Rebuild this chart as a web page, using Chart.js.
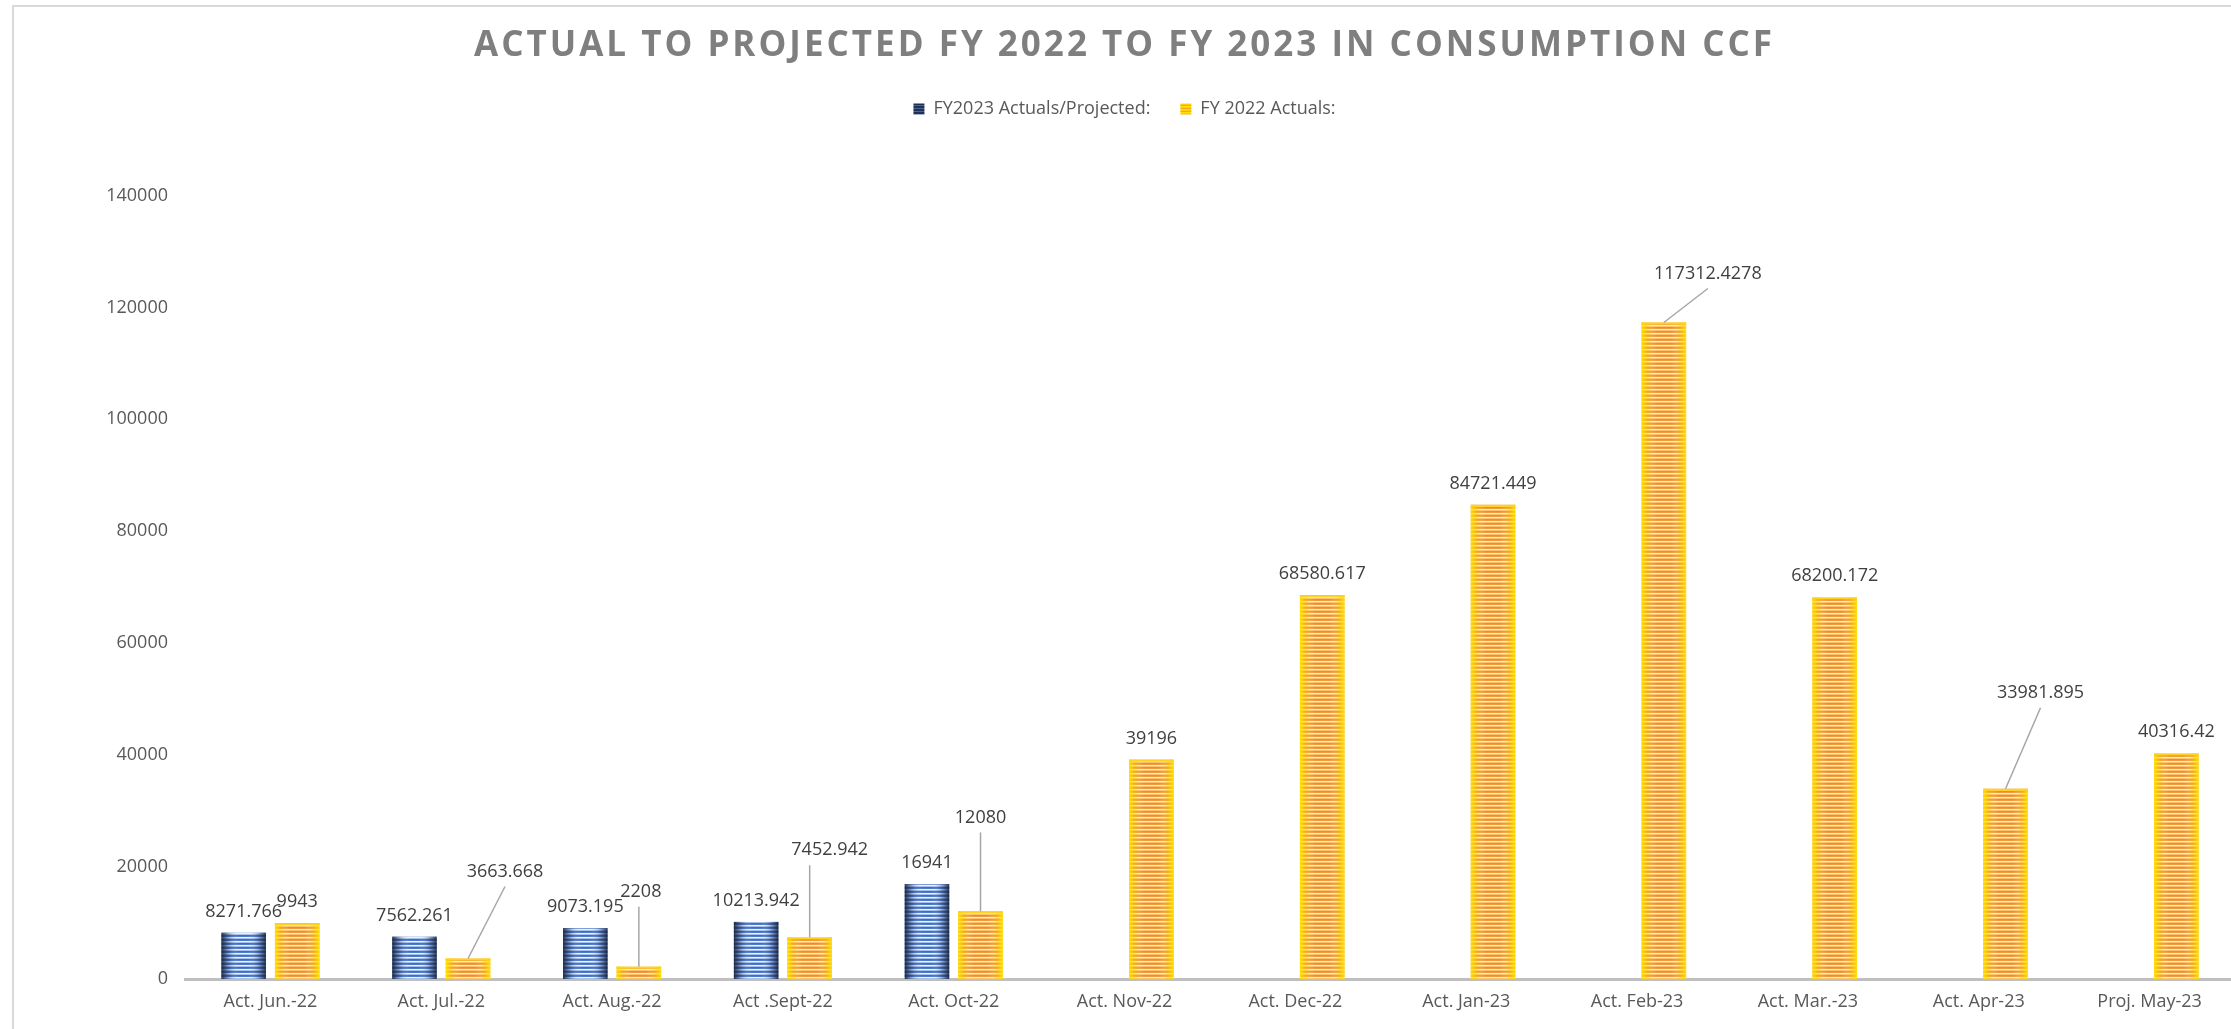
<!DOCTYPE html>
<html>
<head>
<meta charset="utf-8">
<title>Actual to Projected FY 2022 to FY 2023 in Consumption CCF</title>
<script src="https://cdn.jsdelivr.net/npm/chart.js@4.4.1/dist/chart.umd.min.js"></script>
<style>
  html, body { margin: 0; padding: 0; background: #ffffff; overflow: hidden; width: 2231px; height: 1029px; }
  #frame { position: absolute; left: 12px; top: 5px; width: 2300px; height: 1100px;
           border-left: 2px solid #d9d9d9; border-top: 2px solid #d9d9d9; box-sizing: border-box; }
  #wrap { position: absolute; left: 14px; top: 7px; width: 2240px; height: 1022px; }
</style>
</head>
<body>
<div id="frame"></div>
<div id="wrap"><canvas id="chart" width="2240" height="1022"></canvas></div>
<script>
// ---- data ----
const categories = [
  'Act. Jun.-22', 'Act. Jul.-22', 'Act. Aug.-22', 'Act .Sept-22', 'Act. Oct-22', 'Act. Nov-22',
  'Act. Dec-22', 'Act. Jan-23', 'Act. Feb-23', 'Act. Mar.-23', 'Act. Apr-23', 'Proj. May-23'
];
const fy2023Values = [8271.766, 7562.261, 9073.195, 10213.942, 16941, null, null, null, null, null, null, null];
const fy2022Values = [9943, 3663.668, 2208, 7452.942, 12080, 39196, 68580.617, 84721.449, 117312.4278, 68200.172, 33981.895, 40316.42];
const seriesNames = ['FY2023 Actuals/Projected:', 'FY 2022 Actuals:'];
const yTickValues = [0, 20000, 40000, 60000, 80000, 100000, 120000, 140000];

// ---- label placement for values shown with leader lines (pixel offsets from bar top) ----
const labelLeaders = {
  '1-1': { dx: 37, dy: -87 },
  '1-2': { dx: 2, dy: -75 },
  '1-3': { dx: 20, dy: -87 },
  '1-4': { dx: 0, dy: -94 },
  '1-8': { dx: 44, dy: -49 },
  '1-10': { dx: 35, dy: -96 }
};

// ---- striped fills ----
function stripePattern(rows) {
  const c = document.createElement('canvas');
  c.width = 1; c.height = rows.length;
  const g = c.getContext('2d');
  rows.forEach((col, i) => { g.fillStyle = col; g.fillRect(0, i, 1, 1); });
  return g.createPattern(c, 'repeat');
}
const blueStripes = stripePattern(['#3f6cc2', '#4d7dd2', '#eef3fb', '#a9c0e6']);
const goldStripes = stripePattern(['#f08a2c', '#f39a3a', '#fdebd8', '#f9c070']);
const blueLegend = stripePattern(['#1f3157', '#1f3157', '#4a6595']);
const goldLegend = stripePattern(['#ffe100', '#ffd000', '#f5a623']);

// side shading that gives each bar its rounded look
const barShade = {
  0: { edge: 'rgba(22,34,62,0.92)', mid: 'rgba(30,48,88,0.30)', top: null, stops: [0.18, 0.4] },
  1: { edge: 'rgba(255,228,0,0.95)', mid: 'rgba(255,214,0,0.32)', top: '#ffd21f', stops: [0.14, 0.34] }
};

const shadePlugin = {
  id: 'barShade',
  afterDatasetDraw(chart, args) {
    const ctx = chart.ctx;
    const shade = barShade[args.index];
    if (!shade) return;
    const [a, b] = shade.stops;
    ctx.save();
    args.meta.data.forEach((el, j) => {
      const v = chart.data.datasets[args.index].data[j];
      if (v === null || v === undefined) return;
      const { x, y, base, width } = el.getProps(['x', 'y', 'base', 'width'], true);
      const left = x - width / 2;
      const g = ctx.createLinearGradient(left, 0, left + width, 0);
      g.addColorStop(0, shade.edge);
      g.addColorStop(a, shade.mid);
      g.addColorStop(b, 'rgba(255,255,255,0)');
      g.addColorStop(1 - b, 'rgba(255,255,255,0)');
      g.addColorStop(1 - a, shade.mid);
      g.addColorStop(1, shade.edge);
      ctx.fillStyle = g;
      ctx.fillRect(left, y, width, base - y);
      if (shade.top) {
        ctx.fillStyle = shade.top;
        ctx.fillRect(left, y, width, 2);
      }
    });
    ctx.restore();
  }
};

// value labels above bars, some pulled out with a leader line
const valueLabels = {
  id: 'valueLabels',
  afterDatasetsDraw(chart) {
    const ctx = chart.ctx;
    ctx.save();
    ctx.font = '18px "Open Sans"';
    ctx.fillStyle = '#404040';
    ctx.textAlign = 'center';
    ctx.textBaseline = 'middle';
    chart.data.datasets.forEach((ds, di) => {
      const meta = chart.getDatasetMeta(di);
      meta.data.forEach((el, j) => {
        const v = ds.data[j];
        if (v === null || v === undefined) return;
        const { x, y } = el.getProps(['x', 'y'], true);
        const text = String(v);
        const lead = labelLeaders[di + '-' + j];
        if (lead) {
          const lx = x + lead.dx, ly = y + lead.dy;
          const w = ctx.measureText(text).width;
          const inside = x > lx - w / 2 + w * 0.15 && x < lx + w / 2 - w * 0.15;
          const sx = inside ? x : lx;
          ctx.strokeStyle = '#a6a6a6';
          ctx.lineWidth = 1.5;
          ctx.beginPath();
          ctx.moveTo(sx, ly + 15);
          ctx.lineTo(x, y);
          ctx.stroke();
          ctx.fillText(text, lx, ly);
        } else {
          ctx.fillText(text, x, y - 21);
        }
      });
    });
    ctx.restore();
  }
};

// spaced capitals for the title
const titleSpacing = {
  id: 'titleSpacing',
  beforeDraw(chart) {
    const tb = chart.titleBlock;
    if (tb && !tb._spaced) {
      const draw = tb.draw;
      tb.draw = function (...a) {
        this.ctx.save();
        this.ctx.letterSpacing = '3px';
        draw.apply(this, a);
        this.ctx.restore();
      };
      tb._spaced = true;
    }
  }
};

// empty band between legend and plot
const legendGap = {
  id: 'legendGap',
  beforeInit(chart) {
    Chart.layouts.addBox(chart, {
      position: 'top', weight: 0, fullSize: true, options: {},
      isHorizontal() { return true; },
      update(maxWidth) { this.width = maxWidth; this.height = 67.5; },
      draw() {}
    });
  }
};

const ctx = document.getElementById('chart').getContext('2d');
new Chart(ctx, {
  type: 'bar',
  data: {
    labels: categories,
    datasets: [
      { label: seriesNames[0], data: fy2023Values, backgroundColor: blueStripes, borderWidth: 0 },
      { label: seriesNames[1], data: fy2022Values, backgroundColor: goldStripes, borderWidth: 0 }
    ]
  },
  options: {
    responsive: false,
    devicePixelRatio: 1,
    animation: false,
    categoryPercentage: 0.627,
    barPercentage: 0.832,
    layout: { padding: { left: 0, right: 19, top: 0, bottom: 0 } },
    plugins: {
      title: {
        display: true,
        text: 'ACTUAL TO PROJECTED FY 2022 TO FY 2023 IN CONSUMPTION CCF',
        color: '#7f7f7f',
        font: { family: '"Open Sans"', size: 35, weight: 'bold', lineHeight: 1.2 },
        padding: { top: 18, bottom: 3 }
      },
      legend: {
        display: true,
        position: 'top',
        labels: {
          color: '#595959',
          font: { family: '"Open Sans"', size: 18 },
          boxWidth: 11,
          boxHeight: 11,
          padding: 30,
          generateLabels(chart) {
            const items = Chart.defaults.plugins.legend.labels.generateLabels(chart);
            const fills = [blueLegend, goldLegend];
            items.forEach((it, i) => { it.fillStyle = fills[i]; it.strokeStyle = 'rgba(0,0,0,0)'; it.lineWidth = 0; });
            return items;
          }
        }
      },
      tooltip: { enabled: false }
    },
    scales: {
      x: {
        grid: { display: false, drawTicks: false },
        border: { display: true, color: '#bfbfbf', width: 3 },
        ticks: { color: '#595959', font: { family: '"Open Sans"', size: 18 }, padding: 12, maxRotation: 0, autoSkip: false },
        afterFit(scale) { scale.height = 50; }
      },
      y: {
        min: 0,
        max: 140000,
        grid: { display: false, drawTicks: false },
        border: { display: false },
        ticks: { color: '#595959', font: { family: '"Open Sans"', size: 18 }, padding: 17, callback: v => String(v) },
        afterBuildTicks(scale) { scale.ticks = yTickValues.map(v => ({ value: v })); },
        afterFit(scale) { scale.width = 171; }
      }
    }
  },
  plugins: [legendGap, titleSpacing, shadePlugin, valueLabels]
});
</script>
</body>
</html>
